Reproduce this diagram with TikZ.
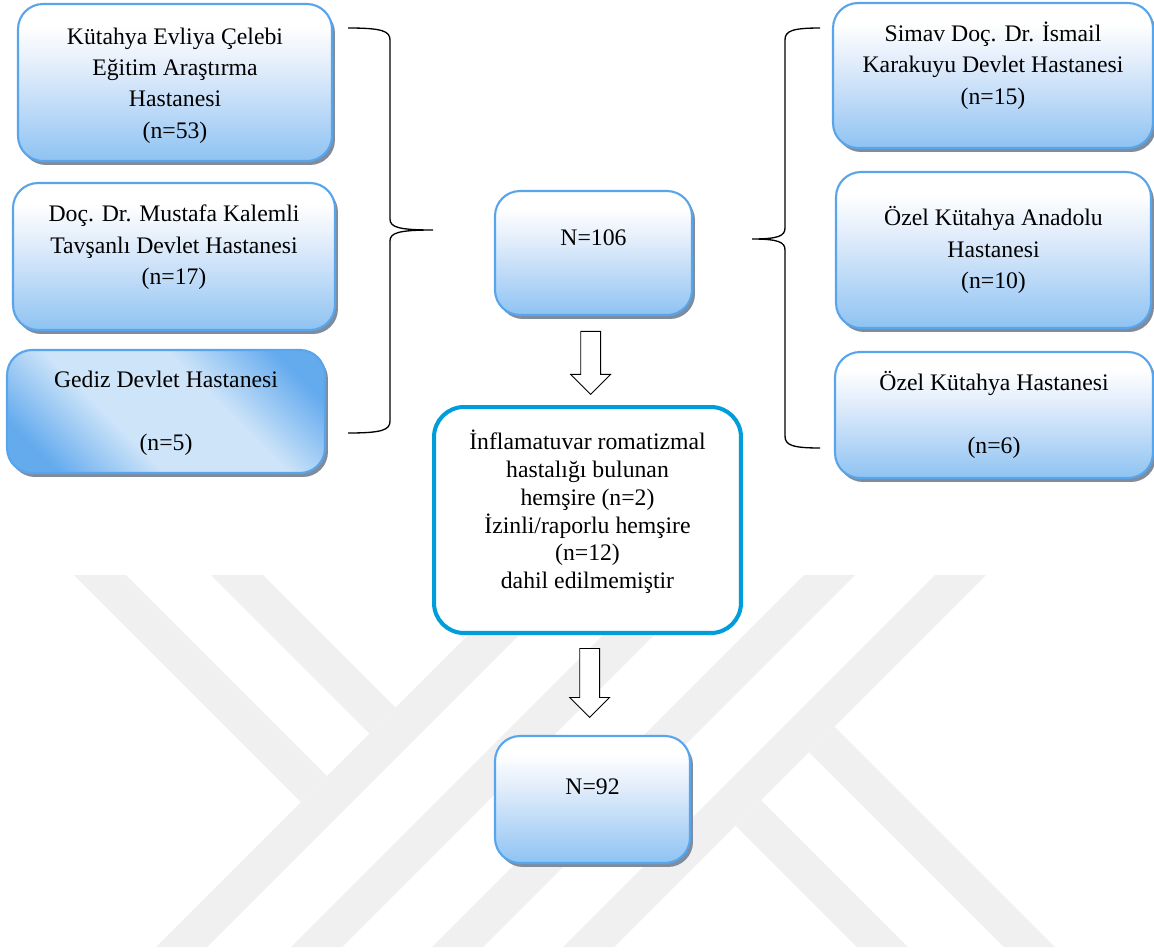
\documentclass[tikz,border=0pt]{standalone}
\usepackage{fontspec}
\setmainfont{Liberation Serif}
\usepackage{tikz}
\usepackage{xcolor}
\usetikzlibrary{shapes.arrows, shadows}

\definecolor{kenar}{RGB}{88,165,236}
\definecolor{kutualt}{RGB}{142,195,242}
\definecolor{kutuara}{RGB}{185,216,247}
\definecolor{kutuust}{RGB}{226,237,251}
\definecolor{gedizkoyu}{RGB}{100,171,238}
\definecolor{gedizacik}{RGB}{206,228,249}
\definecolor{haricmavi}{RGB}{0,157,219}
\definecolor{golge}{RGB}{128,140,156}
\definecolor{filigran}{RGB}{240,240,240}

\pgfdeclareverticalshading{kutufill}{100bp}{color(0bp)=(kutualt); color(25bp)=(kutualt); color(40bp)=(kutuara); color(55bp)=(kutuust); color(68bp)=(white); color(100bp)=(white)}
\pgfdeclarehorizontalshading{gedizfill}{100bp}{color(0bp)=(gedizkoyu); color(23bp)=(gedizkoyu); color(40bp)=(gedizacik); color(60bp)=(gedizacik); color(77bp)=(gedizkoyu); color(100bp)=(gedizkoyu)}

\begin{document}
\begin{tikzpicture}[x=0.02cm, y=-0.02cm,
    kutu/.style={rectangle, rounded corners=0.5cm, draw=kenar, line width=1.2pt, shade, shading=kutufill,
        drop shadow={shadow xshift=0.06cm, shadow yshift=-0.08cm, fill=golge, opacity=1}},
    yazi/.style={align=center, inner sep=0pt, font=\fontsize{13.5}{17.9}\selectfont},
    haricbox/.style={rectangle, rounded corners=0.6cm, draw=haricmavi, line width=2.3pt, fill=white},
    blok/.style={single arrow, draw, fill=white, line width=0.5pt, rotate=-90, inner xsep=0pt,
        inner ysep=0.19cm, single arrow head extend=0.2cm},
    ayrac/.style={line width=0.75pt}]
    \useasboundingbox (0,0) rectangle (1154,951);
    \fill[white] (0,0) rectangle (1154,951);

    % Filigran (arka plan)
    \foreach \b in {156,291,432,563} {
        \fill[filigran] (\b,947) -- (\b+51,947) -- (\b+423,575) -- (\b+372,575) -- cycle;
    }
    \fill[filigran] (74,575) -- (126,575) -- (327,776) -- (301,802) -- cycle;
    \fill[filigran] (211,575) -- (263,575) -- (395.5,707.5) -- (369.5,733.5) -- cycle;
    \fill[filigran] (857,947) -- (908,947) -- (761,800) -- (735.5,825.5) -- cycle;
    \fill[filigran] (1004,947) -- (1055,947) -- (834.5,726.5) -- (809,752) -- cycle;

    % Sol hastaneler
    \node[kutu, minimum width=6.28cm, minimum height=3.14cm,
        label={[yazi, yshift=-0.06cm]center:{Kütahya Evliya Çelebi\\Eğitim Araştırma\\Hastanesi\\(n=53)}}] (kutahya) at (175,82.5) {};
    \node[kutu, minimum width=6.44cm, minimum height=2.94cm,
        label={[yazi, yshift=0.18cm]center:{Doç. Dr. Mustafa Kalemli\\Tavşanlı Devlet Hastanesi\\(n=17)}}] (tavsanli) at (174,256.5) {};
    \node[kutu, shading=gedizfill, shading angle=45, minimum width=6.36cm, minimum height=2.46cm,
        label={[yazi, yshift=-0.03cm]center:{Gediz Devlet Hastanesi\\[17.9pt](n=5)}}] (gediz) at (166,411.5) {};

    % Sag hastaneler
    \node[kutu, minimum width=6.4cm, minimum height=2.9cm,
        label={[yazi, yshift=0.2cm]center:{Simav Doç. Dr. İsmail\\Karakuyu Devlet Hastanesi\\(n=15)}}] (simav) at (993,75.5) {};
    \node[kutu, minimum width=6.3cm, minimum height=3.12cm,
        label={[yazi]center:{Özel Kütahya Anadolu\\Hastanesi\\(n=10)}}] (anadolu) at (993.5,250) {};
    \node[kutu, minimum width=6.36cm, minimum height=2.52cm,
        label={[yazi]center:{Özel Kütahya Hastanesi\\[17.9pt](n=6)}}] (ozel) at (994,415) {};

    % Orta sutun
    \node[kutu, minimum width=3.94cm, minimum height=2.48cm,
        label={[yazi, yshift=0.3cm]center:{N=106}}] (toplam) at (593.5,253) {};
    \node[haricbox, minimum width=6.14cm, minimum height=4.52cm,
        label={[yazi, font=\fontsize{13.5}{15.8}\selectfont, yshift=0.16cm]center:{İnflamatuvar romatizmal\\hastalığı bulunan\\hemşire (n=2)\\İzinli/raporlu hemşire\\(n=12)\\dahil edilmemiştir}}] (haric) at (587.5,520) {};
    \node[kutu, minimum width=3.9cm, minimum height=2.54cm,
        label={[yazi, yshift=0.25cm]center:{N=92}}] (sonuc) at (592.5,799.5) {};

    % Oklar
    \path (toplam.south) -- node[blok, pos=0.47, minimum height=1.26cm] (ok1) {} (haric.north);
    \path (haric.south) -- node[blok, pos=0.43, minimum height=1.38cm] (ok2) {} (sonuc.north);

    % Parantezler
    \coordinate (solucu) at (433,230);
    \coordinate (sagucu) at (752,239);
    \draw[ayrac] (348,28) .. controls (382,28) and (390,31) .. (390,40) -- (390,219)
        .. controls (390,227) and (398,230) .. (solucu)
        .. controls (398,230) and (390,233) .. (390,241) -- (390,421)
        .. controls (390,430) and (382,433) .. (348,433);
    \draw[ayrac] (820,28) .. controls (792,28) and (785,31) .. (785,40) -- (785,228)
        .. controls (785,236) and (778,239) .. (sagucu)
        .. controls (778,239) and (785,242) .. (785,250) -- (785,436)
        .. controls (785,445) and (792,448) .. (820,448);
\end{tikzpicture}
\end{document}
